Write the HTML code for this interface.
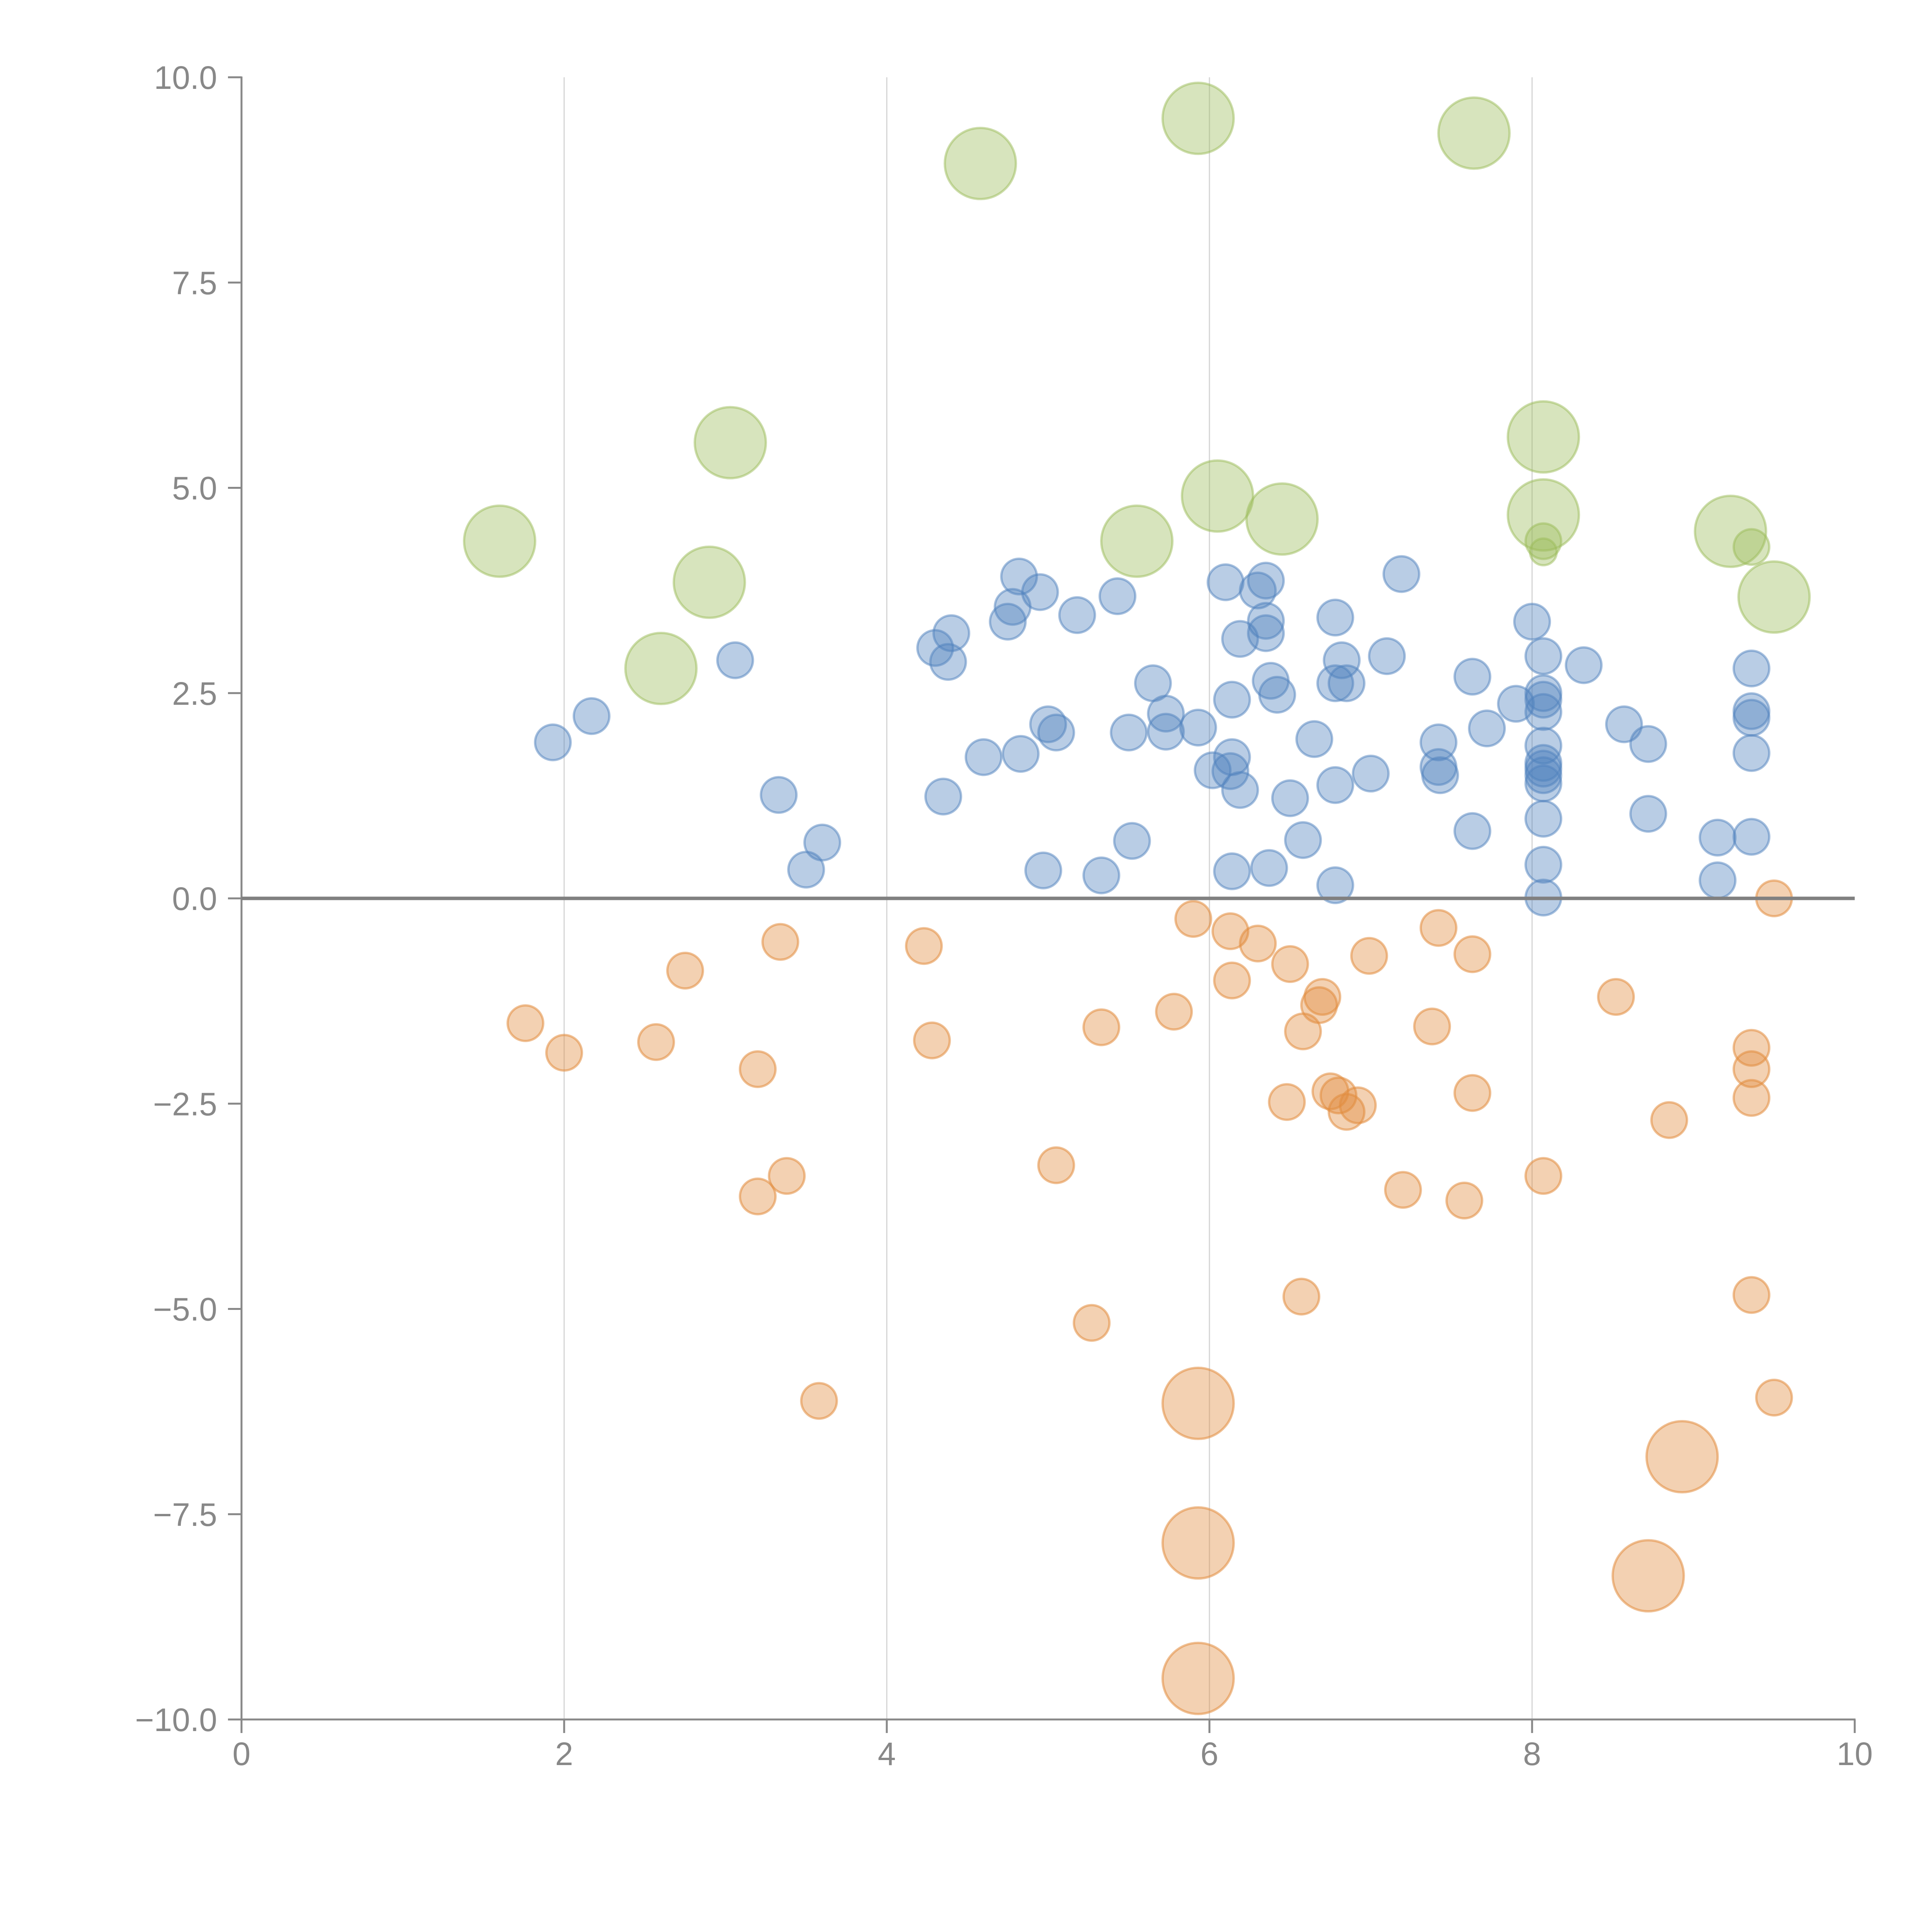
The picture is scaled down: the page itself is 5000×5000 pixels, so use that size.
<!DOCTYPE html>
<html><head><meta charset="utf-8"><style>
html,body{margin:0;padding:0;background:#fff;}
svg{display:block;font-family:"Liberation Sans",Arial,sans-serif;}
</style></head><body>
<svg id="chart" width="5000" height="5000" viewBox="0 0 5000 5000" xmlns="http://www.w3.org/2000/svg">
<g id="grid"></g>
<g id="axes"></g>
<g id="marks"></g>
</svg>
<script>
const xTicks=[0,2,4,6,8,10];
const yTicks=[-10,-7.5,-5,-2.5,0,2.5,5,7.5,10];
const yTickLabels=["\u221210.0","\u22127.5","\u22125.0","\u22122.5","0.0","2.5","5.0","7.5","10.0"];
const greenX=[1.6,2.6,2.9,3.03,4.58,5.55,5.93,6.05,6.45,7.64,8.07,8.07,8.07,8.07,9.23,9.36,9.5];
const greenY=[4.35,2.8,3.85,5.55,8.95,4.35,9.5,4.9,4.62,9.32,5.62,4.67,4.35,4.22,4.47,4.28,3.67];
const greenS=[2,2,2,2,2,2,2,2,2,2,2,2,1,0.75,2,1,2];
const blueX=[1.93,2.17,3.06,3.33,3.5,3.6,4.3,4.35,4.38,4.4,4.6,4.75,4.78,4.82,4.83,4.95,4.97,5.0,5.05,5.18,5.33,5.43,5.5,5.52,5.65,5.73,5.73,5.93,6.02,6.1,6.13,6.14,6.14,6.14,6.19,6.19,6.3,6.35,6.35,6.35,6.37,6.38,6.42,6.5,6.58,6.65,6.78,6.78,6.78,6.78,6.82,6.85,7.0,7.1,7.19,7.42,7.42,7.43,7.63,7.63,7.72,7.9,8.0,8.07,8.07,8.07,8.07,8.07,8.07,8.07,8.07,8.07,8.07,8.07,8.07,8.32,8.57,8.72,8.72,9.15,9.15,9.36,9.36,9.36,9.36,9.36];
const blueY=[1.9,2.22,2.9,1.26,0.35,0.68,3.05,1.24,2.88,3.23,1.72,3.37,3.55,3.92,1.76,3.73,0.34,2.12,2.02,3.45,0.28,3.68,2.02,0.7,2.62,2.25,2.03,2.08,1.56,3.85,1.55,2.42,1.72,0.33,3.16,1.32,3.75,3.87,3.38,3.23,0.37,2.65,2.48,1.22,0.71,1.94,3.42,2.62,1.38,0.16,2.9,2.62,1.52,2.95,3.95,1.9,1.6,1.5,2.7,0.82,2.07,2.37,3.37,2.95,2.5,2.42,2.27,1.86,1.65,1.58,1.5,1.4,0.97,0.41,0.01,2.84,2.12,1.88,1.03,0.74,0.22,2.8,2.28,2.2,1.77,0.75];
const orangeX=[1.76,2.0,2.57,2.75,3.2,3.2,3.34,3.38,3.58,4.23,4.28,5.05,5.27,5.33,5.78,5.9,5.93,5.93,5.93,6.13,6.14,6.3,6.48,6.5,6.57,6.58,6.68,6.7,6.75,6.8,6.85,6.92,6.99,7.2,7.38,7.42,7.58,7.63,7.63,8.07,8.52,8.72,8.85,8.93,9.36,9.36,9.36,9.36,9.5,9.5];
const orangeY=[-1.52,-1.88,-1.75,-0.88,-2.08,-3.63,-0.53,-3.38,-6.12,-0.58,-1.73,-3.25,-5.17,-1.57,-1.38,-0.25,-6.15,-7.85,-9.5,-0.4,-1.0,-0.55,-2.48,-0.8,-4.85,-1.62,-1.3,-1.2,-2.35,-2.4,-2.6,-2.52,-0.7,-3.55,-1.56,-0.36,-3.68,-0.68,-2.37,-3.38,-1.2,-8.25,-2.7,-6.8,-1.82,-2.08,-2.43,-4.83,-6.08,0.0];
const orangeS=[1,1,1,1,1,1,1,1,1,1,1,1,1,1,1,1,2,2,2,1,1,1,1,1,1,1,1,1,1,1,1,1,1,1,1,1,1,1,1,1,1,2,1,2,1,1,1,1,1,1];

const X0=625,X1=4800,Y0=4450,Y1=200;
const sx=v=>X0+(v-0)/(10-0)*(X1-X0);
const sy=v=>Y0-(v+10)/20*(Y0-Y1);
const NS="http://www.w3.org/2000/svg";
function mk(tag,attrs,parent){const e=document.createElementNS(NS,tag);for(const k in attrs)e.setAttribute(k,attrs[k]);parent.appendChild(e);return e;}
const grid=document.getElementById('grid'),axes=document.getElementById('axes'),marks=document.getElementById('marks');

xTicks.forEach(t=>{
  if(t>0&&t<10){const g=mk('line',{x1:sx(t),x2:sx(t),y1:Y1,y2:Y0,stroke:'#d4d4d4','stroke-width':3},grid);
  
  }
  const tk=mk('line',{x1:sx(t),x2:sx(t),y1:Y0,y2:Y0+35,stroke:'#888','stroke-width':5},axes);
  
  
  const tx=mk('text',{x:sx(t),y:4568,'text-anchor':'middle','font-size':84,fill:'#888'},axes);
  tx.textContent=String(t);
  
  
});
yTicks.forEach((t,i)=>{
  const tk=mk('line',{x1:X0-35,x2:X0,y1:sy(t),y2:sy(t),stroke:'#888','stroke-width':5},axes);
  
  
  const tx=mk('text',{x:562,y:sy(t)+30,'text-anchor':'end','font-size':84,fill:'#888'},axes);
  tx.textContent=yTickLabels[i];
  
  
});
const ya=mk('line',{x1:X0,x2:X0,y1:Y1-2,y2:Y0,stroke:'#888','stroke-width':5},axes);


const xa=mk('line',{x1:X0-2,x2:X1+2,y1:Y0,y2:Y0,stroke:'#888','stroke-width':5},axes);



function series(xs,ys,ss,fill,stroke,name){
  xs.forEach((x,i)=>{
    const r=46*(ss?ss[i]:1);
    const c=mk('circle',{cx:sx(x),cy:sy(ys[i]),r:r,fill:fill,stroke:stroke,'stroke-width':6},marks);
    
    
  });
}
series(orangeX,orangeY,orangeS,'rgba(225,140,62,0.4)','rgba(225,140,62,0.55)','bubble-orange');
series(blueX,blueY,null,'rgba(79,129,189,0.4)','rgba(79,129,189,0.5)','bubble-blue');
series(greenX,greenY,greenS,'rgba(155,187,89,0.4)','rgba(155,187,89,0.5)','bubble-green');

const zl=mk('line',{x1:X0,x2:X1,y1:sy(0),y2:sy(0),stroke:'#808080','stroke-width':9},axes);


document.getElementById('chart').appendChild(axes);
</script>
</body></html>
